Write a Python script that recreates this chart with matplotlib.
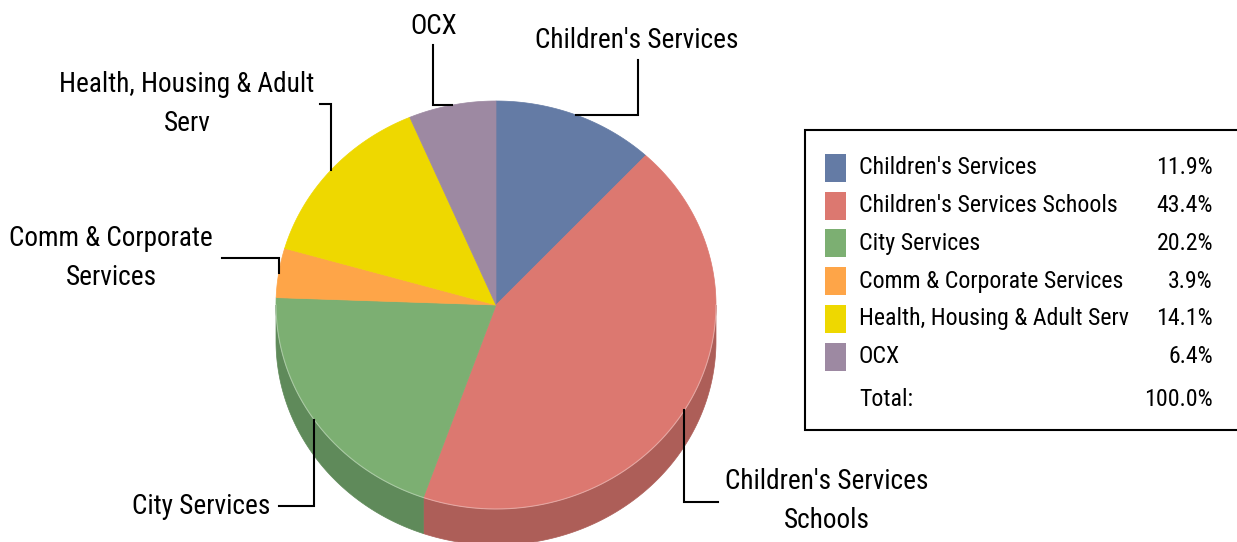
import numpy as np
import matplotlib
matplotlib.use("Agg")
import matplotlib.pyplot as plt
from matplotlib import font_manager
from matplotlib.patches import Polygon, Rectangle

# Budget shares by directorate (%)
categories = ["Children's Services", "Children's Services Schools", "City Services",
              "Comm & Corporate Services", "Health, Housing & Adult Serv", "OCX"]
shares = [11.9, 43.4, 20.2, 3.9, 14.1, 6.4]
total_share = 100.0
pie_labels = ["Children's Services", "Children's Services\nSchools", "City Services",
              "Comm & Corporate\nServices", "Health, Housing & Adult\nServ", "OCX"]
total_label = "Total:"

top_colors = ["#647ba5", "#dc7870", "#7caf72", "#fea548", "#eed800", "#9d89a2"]
side_colors = ["#4e6185", "#ad5e58", "#5f8a5a", "#c98338", "#bcab00", "#7c6c80"]

# narrow face if there is one, otherwise a regular face at a smaller size
names = {f.name for f in font_manager.fontManager.ttflist}
FONT, LABEL_SIZE, LEGEND_SIZE = "Liberation Sans", 17, 15
for cand in ["Liberation Sans Narrow", "Arial Narrow", "Roboto Condensed"]:
    if cand in names:
        FONT, LABEL_SIZE, LEGEND_SIZE = cand, 19.6, 17.2
        break

# pie geometry in pixel units
cx, cy = 496, 305
rx, ry = 220, 204
depth = 36


def rim(a_deg):
    a = np.radians(a_deg)
    return cx + rx * np.sin(a), cy - ry * np.cos(a)


fig = plt.figure(figsize=(12.37, 5.42), dpi=100)
ax = fig.add_axes([0, 0, 1, 1])
ax.set_xlim(0, 1237)
ax.set_ylim(542, 0)
ax.axis("off")

fracs = np.array(shares) / sum(shares)
edges = np.concatenate([[0], np.cumsum(fracs)]) * 360

# side walls (front half only, 90..270 degrees clockwise from top)
for i in range(len(shares)):
    a0, a1 = max(edges[i], 90), min(edges[i + 1], 270)
    if a1 <= a0:
        continue
    t = np.linspace(a0, a1, 200)
    x, y = rim(t)
    pts = np.column_stack([np.concatenate([x, x[::-1]]),
                           np.concatenate([y, y[::-1] + depth])])
    ax.add_patch(Polygon(pts, closed=True, facecolor=side_colors[i],
                         edgecolor=side_colors[i], lw=0.5))

# top faces
for i in range(len(shares)):
    t = np.linspace(edges[i], edges[i + 1], 300)
    x, y = rim(t)
    pts = np.column_stack([np.concatenate([[cx], x]), np.concatenate([[cy], y])])
    ax.add_patch(Polygon(pts, closed=True, facecolor=top_colors[i],
                         edgecolor=top_colors[i], lw=0.5))

# light rim where top meets side
t = np.linspace(90, 270, 400)
x, y = rim(t)
ax.plot(x, y, color="white", lw=0.8, alpha=0.35)

# callout labels: text centre, leader end, and whether the leader leaves the rim sideways
label_pos = [(637, 40), (827, 501), (201, 506), (111, 258), (187, 104), (434, 27)]
leader_end = [(638, 60), (718, 502), (279, 506), (222, 258), (320, 104), (433, 45)]
horizontal_first = [True, False, False, False, False, True]

for i, lab in enumerate(pie_labels):
    mid = (edges[i] + edges[i + 1]) / 2
    sx, sy = rim(mid)
    ex, ey = leader_end[i]
    if horizontal_first[i]:
        px, py = [sx, ex, ex], [sy, sy, ey]
    else:
        px, py = [sx, sx, ex], [sy, ey, ey]
    ax.plot(px, py, color="black", lw=1.5, solid_joinstyle="miter")
    ax.text(label_pos[i][0], label_pos[i][1], lab, family=FONT, fontsize=LABEL_SIZE,
            ha="center", va="center", multialignment="center", linespacing=1.55)

# legend table
ax.add_patch(Rectangle((805, 130), 440, 300, facecolor="white",
                       edgecolor="black", lw=1.5))
row_y = 168
row_step = 37.7
for i, name in enumerate(categories):
    yy = row_y + i * row_step
    ax.add_patch(Rectangle((825, yy - 14), 21, 28, facecolor=top_colors[i],
                           edgecolor="none"))
    ax.text(859, yy, name, family=FONT, fontsize=LEGEND_SIZE, ha="left", va="center")
    ax.text(1213, yy, f"{shares[i]:.1f}%", family=FONT, fontsize=LEGEND_SIZE,
            ha="right", va="center")
yy = row_y + len(categories) * row_step + 5
ax.text(859, yy, total_label, family=FONT, fontsize=LEGEND_SIZE, ha="left", va="center")
ax.text(1213, yy, f"{total_share:.1f}%", family=FONT, fontsize=LEGEND_SIZE,
        ha="right", va="center")

fig.savefig("out.png", dpi=100)
